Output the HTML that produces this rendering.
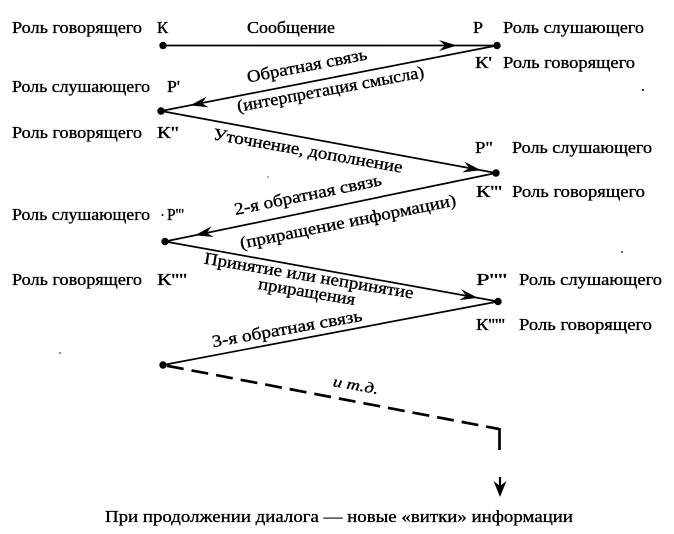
<!DOCTYPE html>
<html>
<head>
<meta charset="utf-8">
<style>
  html, body { margin: 0; padding: 0; background: #fff; }
  svg { display: block; }
  text { font-family: "Liberation Serif", "Noto Serif CJK SC", serif; fill: #000; stroke: #000; stroke-width: 0.35; }
</style>
</head>
<body>
<svg width="674" height="534" viewBox="0 0 674 534" xmlns="http://www.w3.org/2000/svg">
  <rect width="674" height="534" fill="#fff"/>

  <!-- connectors -->
  <g stroke="#000" stroke-width="1.7" fill="none" stroke-linecap="round">
    <line x1="163" y1="45.5" x2="497" y2="45.5"/>
    <line x1="497" y1="45.5" x2="161" y2="111"/>
    <line x1="161" y1="111" x2="496" y2="173"/>
    <line x1="496" y1="173" x2="165" y2="241.5"/>
    <line x1="165" y1="241.5" x2="498" y2="301.5"/>
    <line x1="498" y1="301.5" x2="163" y2="365"/>
  </g>
  <line x1="163" y1="365" x2="499" y2="429" stroke="#000" stroke-width="2.7" stroke-dasharray="17 8" stroke-dashoffset="-4"/>
  <line x1="499.5" y1="428" x2="499.5" y2="450" stroke="#000" stroke-width="2.7"/>

  <!-- arrowheads -->
  <g fill="#000">
    <path d="M0,0 L-18,-5.5 L-12,0 L-18,5.5 Z" transform="translate(457,45.5) rotate(0)"/>
    <path d="M0,0 L-18,-5.5 L-12,0 L-18,5.5 Z" transform="translate(190,105.4) rotate(169.05)"/>
    <path d="M0,0 L-18,-5.5 L-12,0 L-18,5.5 Z" transform="translate(481,170.2) rotate(10.49)"/>
    <path d="M0,0 L-18,-5.5 L-12,0 L-18,5.5 Z" transform="translate(195,235.3) rotate(168.31)"/>
    <path d="M0,0 L-18,-5.5 L-12,0 L-18,5.5 Z" transform="translate(478,297.9) rotate(10.21)"/>
    <line x1="500" y1="477" x2="500" y2="488" stroke="#000" stroke-width="2.2"/>
    <path d="M500,497 L493.5,481 L500,486 L506.5,481 Z"/>
  </g>

  <!-- nodes -->
  <g fill="#000">
    <circle cx="163" cy="45.5" r="3.7"/>
    <circle cx="497" cy="45.5" r="3.7"/>
    <circle cx="161" cy="111" r="3.7"/>
    <circle cx="496" cy="173" r="3.7"/>
    <circle cx="165" cy="241.5" r="3.7"/>
    <circle cx="498" cy="301.5" r="3.7"/>
    <circle cx="163" cy="365" r="3.7"/>
    <!-- specks -->
    <circle cx="643" cy="90" r="1"/>
    <circle cx="622" cy="252" r="0.9"/>
    <circle cx="60" cy="353" r="0.8"/>
    <circle cx="162.5" cy="215" r="1"/>
    <circle cx="268" cy="177" r="0.6"/>
  </g>

  <!-- left labels -->
  <g font-size="17">
    <text x="12" y="33" textLength="130" lengthAdjust="spacingAndGlyphs">Роль говорящего</text>
    <text x="157" y="33" textLength="11" lengthAdjust="spacingAndGlyphs">К</text>
    <text x="12" y="92" textLength="138" lengthAdjust="spacingAndGlyphs">Роль слушающего</text>
    <text x="167" y="92" textLength="13" lengthAdjust="spacingAndGlyphs">Р'</text>
    <text x="12" y="138" textLength="130" lengthAdjust="spacingAndGlyphs">Роль говорящего</text>
    <text x="157" y="138" textLength="22" lengthAdjust="spacingAndGlyphs">К"</text>
    <text x="12" y="220" textLength="138" lengthAdjust="spacingAndGlyphs">Роль слушающего</text>
    <text x="167" y="220" textLength="17" lengthAdjust="spacingAndGlyphs">Р'''</text>
    <text x="12" y="285" textLength="130" lengthAdjust="spacingAndGlyphs">Роль говорящего</text>
    <text x="157" y="285" textLength="30" lengthAdjust="spacingAndGlyphs">К''''</text>
  </g>

  <!-- right labels -->
  <g font-size="17">
    <text x="473" y="33" textLength="10" lengthAdjust="spacingAndGlyphs">Р</text>
    <text x="503" y="33" textLength="141" lengthAdjust="spacingAndGlyphs">Роль слушающего</text>
    <text x="475" y="68" textLength="17" lengthAdjust="spacingAndGlyphs">К'</text>
    <text x="503" y="68" textLength="132" lengthAdjust="spacingAndGlyphs">Роль говорящего</text>
    <text x="475" y="153" textLength="18" lengthAdjust="spacingAndGlyphs">Р"</text>
    <text x="512" y="153" textLength="140" lengthAdjust="spacingAndGlyphs">Роль слушающего</text>
    <text x="476" y="197" textLength="26" lengthAdjust="spacingAndGlyphs">К'''</text>
    <text x="512" y="197" textLength="133" lengthAdjust="spacingAndGlyphs">Роль говорящего</text>
    <text x="476" y="285" textLength="31" lengthAdjust="spacingAndGlyphs">Р''''</text>
    <text x="519" y="285" textLength="143" lengthAdjust="spacingAndGlyphs">Роль слушающего</text>
    <text x="476" y="330" textLength="29" lengthAdjust="spacingAndGlyphs">К'''''</text>
    <text x="519" y="330" textLength="133" lengthAdjust="spacingAndGlyphs">Роль говорящего</text>
  </g>

  <!-- connector labels -->
  <g font-size="17">
    <text x="247" y="33" textLength="88" lengthAdjust="spacingAndGlyphs">Сообщение</text>

    <g transform="translate(308,71) rotate(-11)">
      <text x="-61" y="0" textLength="122" lengthAdjust="spacingAndGlyphs">Обратная связь</text>
    </g>
    <g transform="translate(331.5,94.5) rotate(-10.5)">
      <text x="-95" y="0" textLength="190" lengthAdjust="spacingAndGlyphs">(интерпретация смысла)</text>
    </g>
    <g transform="translate(307,156) rotate(10)">
      <text x="-96" y="0" textLength="192" lengthAdjust="spacingAndGlyphs">Уточнение, дополнение</text>
    </g>
    <g transform="translate(309,200) rotate(-11.5)">
      <text x="-75" y="0" textLength="150" lengthAdjust="spacingAndGlyphs">2-я обратная связь</text>
    </g>
    <g transform="translate(349,227) rotate(-11.4)">
      <text x="-110" y="0" textLength="220" lengthAdjust="spacingAndGlyphs">(приращение информации)</text>
    </g>
    <g transform="translate(308,281) rotate(9.5)">
      <text x="-106" y="0" textLength="212" lengthAdjust="spacingAndGlyphs">Принятие или непринятие</text>
    </g>
    <g transform="translate(306,297) rotate(9.5)">
      <text x="-49" y="0" textLength="98" lengthAdjust="spacingAndGlyphs">приращения</text>
    </g>
    <g transform="translate(288,334) rotate(-10)">
      <text x="-76" y="0" textLength="152" lengthAdjust="spacingAndGlyphs">3-я обратная связь</text>
    </g>
    <g transform="translate(355,390) rotate(10)">
      <text x="-23" y="0" font-size="15" font-style="italic" textLength="46" lengthAdjust="spacingAndGlyphs">и  т.д.</text>
    </g>

    <text x="105" y="522" textLength="468" lengthAdjust="spacingAndGlyphs">При продолжении диалога — новые «витки» информации</text>
  </g>
</svg>
</body>
</html>
